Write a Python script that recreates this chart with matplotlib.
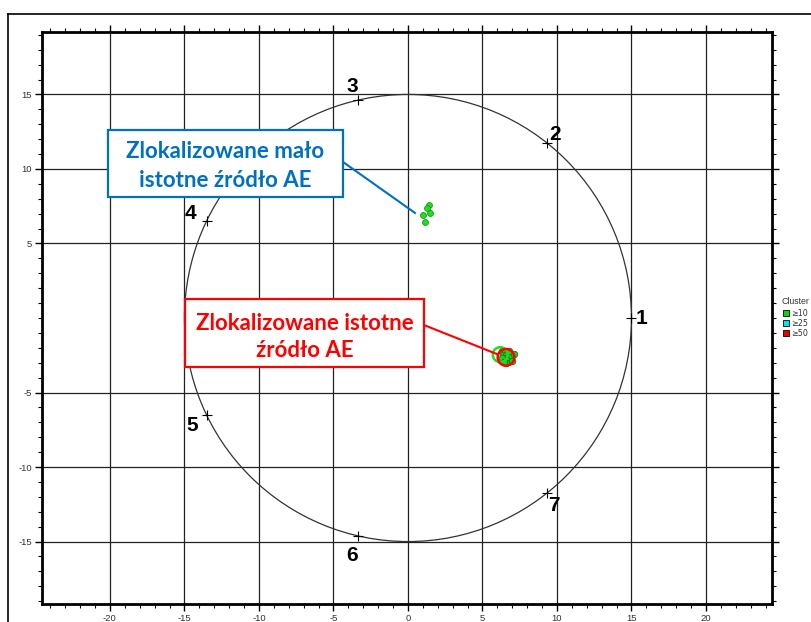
import numpy as np
import matplotlib
matplotlib.use("Agg")
import matplotlib.pyplot as plt
from matplotlib.patches import Circle, Rectangle
from matplotlib.lines import Line2D

plt.rcParams["axes.unicode_minus"] = False

# sensor positions on the r=15 ring
sensor_names = ["1", "2", "3", "4", "5", "6", "7"]
sensor_x = [15.0, 9.35, -3.34, -13.51, -13.51, -3.34, 9.35]
sensor_y = [0.0, 11.73, 14.62, 6.51, -6.51, -14.62, -11.73]
ring_radius = 15.0

# weak source events (upper cluster)
weak_x = [1.39, 1.30, 1.48, 0.99, 1.16]
weak_y = [7.58, 7.40, 7.05, 6.91, 6.46]

# strong source events (main cluster)
strong_x = [6.3, 6.5, 6.7, 6.4, 6.6, 6.8, 6.5, 6.7, 6.9, 7.0, 6.6, 6.3, 7.1, 6.8, 6.45]
strong_y = [-2.2, -2.3, -2.3, -2.5, -2.5, -2.6, -2.7, -2.8, -2.5, -2.9, -3.0, -2.7, -2.4, -2.2, -2.95]

# cluster rings: centre x, centre y, radius
cluster_cx = [6.19, 6.58]
cluster_cy = [-2.46, -2.64]
cluster_r = [0.5, 0.56]
cluster_colors = ["#22dd22", "#ff0000"]

legend_labels = ["\u226510", "\u226525", "\u226550"]
legend_colors = ["#00dd00", "#00e5ee", "#ee0000"]

# label offsets from each sensor, in pixels
label_dx = [10, 8, -6, -16, -14, -6, 7]
label_dy = [0, 9, 14, 7, -10, -20, -13]

W, H = 811, 622
fig = plt.figure(figsize=(W / 100, H / 100), dpi=100)
ax = fig.add_axes([42 / W, 18 / H, 730 / W, 572 / H])
ax.set_xlim(-24.56, 24.43)
ax.set_ylim(-19.19, 19.19)

# outer frame of the screenshot
fig.add_artist(Line2D([8 / W, 8 / W], [0, 1 - 14 / H], transform=fig.transFigure, color="black", lw=1.2))
fig.add_artist(Line2D([8 / W, 1], [1 - 14 / H, 1 - 14 / H], transform=fig.transFigure, color="black", lw=1.2))

ticks = np.arange(-20, 21, 5)
ax.set_xticks(ticks)
ax.set_yticks([-15, -10, -5, 5, 10, 15])
ax.set_xticks(np.arange(-24, 25, 1), minor=True)
ax.set_yticks(np.arange(-19, 20, 1), minor=True)
ax.grid(True, which="major", color="#222222", lw=0.9)
ax.tick_params(which="both", direction="out", top=True, right=True, labeltop=False, labelright=False,
               labelsize=6.8, labelcolor="#333333", color="black")
ax.tick_params(which="major", length=5, width=1, pad=2)
ax.tick_params(which="minor", length=3, width=0.8)
for s in ax.spines.values():
    s.set_linewidth(2)
for lab in ax.get_xticklabels() + ax.get_yticklabels():
    lab.set_family("Liberation Sans")
ax.set_axisbelow(True)

ax.add_patch(Circle((0, 0), ring_radius, fill=False, edgecolor="#333333", lw=0.9, zorder=3))
ax.plot(sensor_x, sensor_y, "+", color="black", ms=7, mew=0.8, zorder=4)
for name, x, y, dx, dy in zip(sensor_names, sensor_x, sensor_y, label_dx, label_dy):
    ax.annotate(name, (x, y), xytext=(dx, dy), textcoords="offset pixels", ha="center", va="center",
                fontsize=15, fontweight="bold", family="Liberation Sans", zorder=5)

ax.scatter(weak_x, weak_y, s=18, c="#22dd22", edgecolors="#119911", linewidths=0.6, zorder=5)
ax.scatter(strong_x, strong_y, s=22, c="#22cc22", edgecolors="#117711", linewidths=0.6, zorder=5)
for cx, cy, r, c in zip(cluster_cx, cluster_cy, cluster_r, cluster_colors):
    ax.add_patch(Circle((cx, cy), r, fill=False, edgecolor=c, lw=1.8, zorder=6))

# callouts
blue = "#0070c0"
red = "#ff0000"
ax.plot([-4.36, 0.47], [10.47, 7.05], color=blue, lw=1.5, zorder=6)
ax.add_patch(Rectangle((-20.13, 8.12), 15.77, 4.5, facecolor="white", edgecolor=blue, lw=1.6, zorder=7))
ax.text(-12.25, 10.22, "Zlokalizowane ma\u0142o\nistotne \u017ar\u00f3d\u0142o AE", ha="center", va="center",
        color=blue, fontsize=16, fontweight="bold", family="Lato", linespacing=1.45, zorder=8)

ax.plot([1.07, 5.97], [-0.47, -2.42], color=red, lw=1.5, zorder=6)
ax.add_patch(Rectangle((-14.97, -3.29), 16.04, 4.57, facecolor="white", edgecolor=red, lw=1.6, zorder=7))
ax.text(-6.95, -1.3, "Zlokalizowane istotne\n\u017ar\u00f3d\u0142o AE", ha="center", va="center",
        color=red, fontsize=16, fontweight="bold", family="Lato", linespacing=1.35, zorder=8)

# legend squeezed against the right edge
fig.text(782 / W, 1 - 302 / H, "Cluster", fontsize=6.3, color="#333333", va="center", family="Liberation Sans")
for i, (lab, c) in enumerate(zip(legend_labels, legend_colors)):
    yy = 1 - (313 + 10 * i) / H
    fig.add_artist(Line2D([786 / W], [yy], marker="s", ms=4.5, mfc=c, mec="black", mew=0.6,
                          transform=fig.transFigure))
    fig.text(791 / W, yy, lab, fontsize=5.8, color="#333333", va="center", family="DejaVu Sans")

fig.savefig("out.png", dpi=100)
